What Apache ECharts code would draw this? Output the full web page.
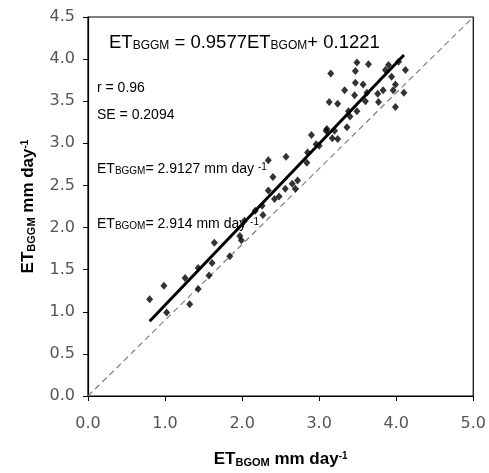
<!DOCTYPE html>
<html><head><meta charset="utf-8">
<script src="https://cdn.jsdelivr.net/npm/echarts@6/dist/echarts.min.js"></script>
<style>html,body{margin:0;padding:0;background:#fff}#c{width:489px;height:473px}</style>
</head><body><div id="c"></div>
<script>
// Scatter points: [ET_BGOM, ET_BGGM]
const points = [
 [0.80,1.15],[0.985,1.31],[1.02,0.99],[1.26,1.40],[1.32,1.09],[1.43,1.27],[1.43,1.52],
 [1.57,1.43],[1.61,1.58],[1.64,1.82],[1.84,1.66],[1.97,1.90],[1.99,1.85],[2.03,2.08],
 [2.17,2.20],[2.26,2.26],[2.27,2.15],[2.34,2.44],[2.34,2.80],[2.40,2.60],[2.42,2.34],
 [2.48,2.37],[2.56,2.46],[2.57,2.84],[2.65,2.52],[2.69,2.46],[2.72,2.56],[2.84,2.77],
 [2.85,2.89],[2.90,3.10],[2.96,2.99],[3.00,2.97],[3.09,3.15],[3.10,3.17],[3.13,3.49],
 [3.15,3.83],[3.17,3.06],[3.20,3.15],[3.24,3.05],[3.24,3.47],[3.33,3.63],[3.36,3.19],
 [3.38,3.38],[3.40,3.32],[3.46,3.57],[3.47,3.72],[3.47,3.86],[3.49,3.96],[3.49,3.38],
 [3.57,3.70],[3.60,3.50],[3.62,3.60],[3.64,3.94],[3.76,3.59],[3.77,3.49],[3.83,3.63],
 [3.86,3.87],[3.90,3.93],[3.94,3.79],[3.96,3.63],[3.99,3.70],[3.99,3.43],[4.03,3.97],
 [4.10,3.60],[4.12,3.87]
];
// Regression line endpoints (ET_BGGM = 0.9577 ET_BGOM + 0.1221)
const fitLine = [[0.8,0.888],[4.1,4.049]];
// Dashed reference line
const refLine = [[0,0],[5,4.5]];
const xTicks = [0,1,2,3,4,5];
const yTicks = [0,0.5,1,1.5,2,2.5,3,3.5,4,4.5];

const chart = echarts.init(document.getElementById('c'));
const F = 'Liberation Sans, Arial, sans-serif';
const TF = 'DejaVu Sans, sans-serif';
const nameRich = {a:{fontSize:17,fontWeight:'bold',fontFamily:F,color:'#000'},
      s:{fontSize:11,fontWeight:'bold',fontFamily:F,verticalAlign:'bottom',color:'#000'},
      p:{fontSize:10,fontWeight:'bold',fontFamily:F,verticalAlign:'top',color:'#000'}};
chart.setOption({
  animation:false,
  grid:{left:88,right:14,top:17,bottom:74,show:true,borderColor:'#000',borderWidth:1.2},
  xAxis:{type:'value',min:xTicks[0],max:xTicks[xTicks.length-1],interval:1,
    axisLine:{lineStyle:{color:'#000',width:1.2}},
    axisTick:{length:5,lineStyle:{color:'#000'}},
    splitLine:{show:false},
    axisLabel:{formatter:v=>v.toFixed(1),color:'#555',fontSize:16,fontFamily:TF,margin:20},
    name:'{a|ET}{s|BGOM}{a| mm day}{p|-1}',nameLocation:'middle',nameGap:55,
    nameTextStyle:{rich:nameRich}},
  yAxis:{type:'value',min:yTicks[0],max:yTicks[yTicks.length-1],interval:0.5,
    axisLine:{show:true,lineStyle:{color:'#000',width:1.2}},
    axisTick:{show:true,length:5,lineStyle:{color:'#000'}},
    splitLine:{show:false},
    axisLabel:{formatter:v=>v.toFixed(1),color:'#555',fontSize:16,fontFamily:TF,margin:13},
    name:'{a|ET}{s|BGGM}{a| mm day}{p|-1}',nameLocation:'middle',nameGap:51,
    nameTextStyle:{rich:nameRich}},
  series:[
    {type:'line',data:refLine,symbol:'none',lineStyle:{color:'#808080',width:1.2,type:[6,4]},z:1},
    {type:'line',data:fitLine,symbol:'none',lineStyle:{color:'#000',width:3},z:2},
    {type:'scatter',data:points,symbol:'diamond',symbolSize:[7,8],itemStyle:{color:'#000'},z:3}
  ],
  graphic:[
    {type:'text',left:109,top:33,style:{text:'{a|ET}{s|BGGM}{a| = 0.9577ET}{s|BGOM}{a|+ 0.1221}',
      rich:{a:{fontSize:18.5,fontFamily:F,color:'#444'},s:{fontSize:12,fontFamily:F,verticalAlign:'bottom',color:'#444'}}}},
    {type:'text',left:97,top:81,style:{text:'r = 0.96',fontSize:14,fontFamily:F,fill:'#000'}},
    {type:'text',left:97,top:108,style:{text:'SE = 0.2094',fontSize:14,fontFamily:F,fill:'#000'}},
    {type:'text',left:97,top:162,style:{text:'{a|ET}{s|BGGM}{a|= 2.9127 mm day }{p|-1}',
      rich:{a:{fontSize:14,fontFamily:F,color:'#000'},s:{fontSize:10,fontFamily:F,verticalAlign:'bottom',color:'#000'},
        p:{fontSize:10,fontFamily:F,verticalAlign:'top',color:'#000'}}}},
    {type:'text',left:97,top:217,style:{text:'{a|ET}{s|BGOM}{a|= 2.914 mm day }{p|-1}',
      rich:{a:{fontSize:14,fontFamily:F,color:'#000'},s:{fontSize:10,fontFamily:F,verticalAlign:'bottom',color:'#000'},
        p:{fontSize:10,fontFamily:F,verticalAlign:'top',color:'#000'}}}}
  ]
});
</script></body></html>
